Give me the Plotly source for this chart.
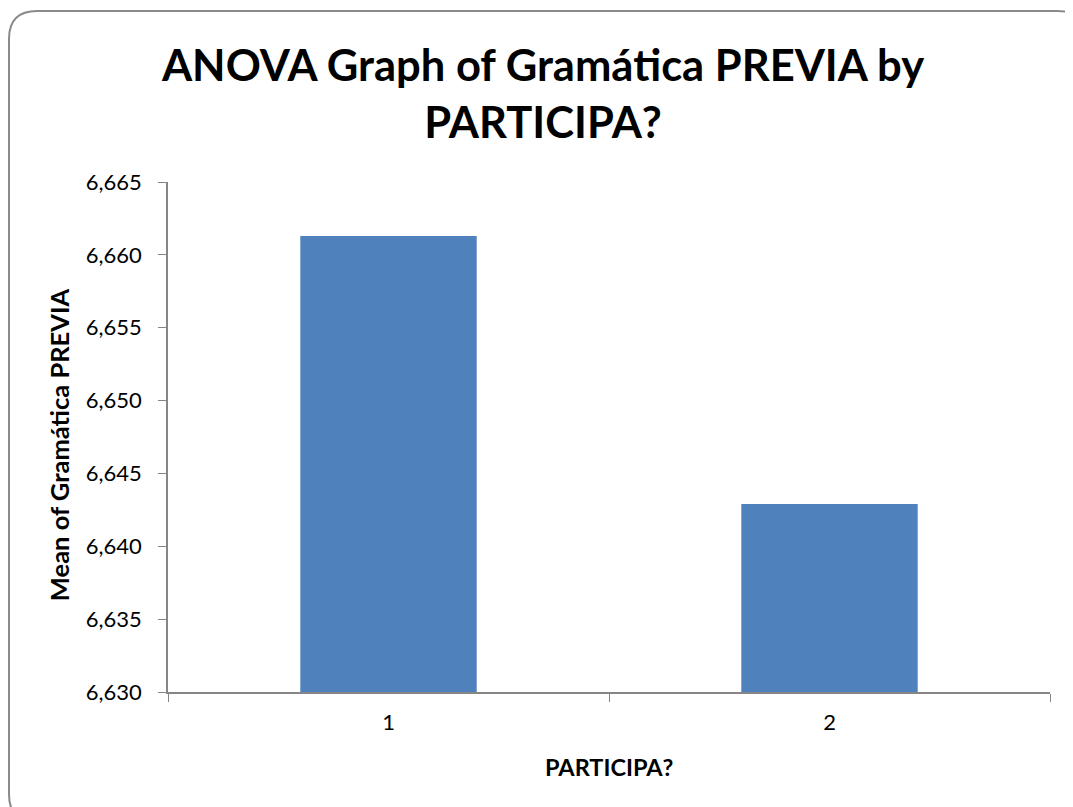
import plotly.graph_objects as go

categories = ["1", "2"]
means = [6.6613, 6.6429]
y_ticks = [6.630, 6.635, 6.640, 6.645, 6.650, 6.655, 6.660, 6.665]

# page body has an 8px default margin, so the figure is offset by 8px
OFF = 8
W, H = 1073 - OFF, 807 - OFF
L, T = 168 - OFF, 182 - OFF
R = W - (1050 - OFF)
B = H - (691.7 - OFF)
pw, ph = W - L - R, H - T - B

def px(x):  # screen pixel -> paper
    return (x - OFF - L) / pw

def py(y):
    return 1 - (y - OFF - T) / ph

fig = go.Figure(go.Bar(x=categories, y=means, width=0.4,
                       marker=dict(color="#4F81BD", line=dict(width=0))))

x0, x1, y0, y1, r = 9, 1085, 11, 822, 28
path = (f"M {px(x0+r)},{py(y0)} L {px(x1-r)},{py(y0)} Q {px(x1)},{py(y0)} {px(x1)},{py(y0+r)} "
        f"L {px(x1)},{py(y1-r)} Q {px(x1)},{py(y1)} {px(x1-r)},{py(y1)} "
        f"L {px(x0+r)},{py(y1)} Q {px(x0)},{py(y1)} {px(x0)},{py(y1-r)} "
        f"L {px(x0)},{py(y0+r)} Q {px(x0)},{py(y0)} {px(x0+r)},{py(y0)} Z")

fig.update_layout(
    width=W, height=H,
    margin=dict(l=L, r=R, t=T, b=B),
    paper_bgcolor="white", plot_bgcolor="white",
    separators=",.",
    showlegend=False,
    font=dict(family="Lato, Calibri, Arial", color="black"),
    title=dict(text="ANOVA Graph of Gramática PREVIA by<br>PARTICIPA?", x=px(543), xanchor="center",
               xref="paper", y=1 - (81 - OFF) / H, yanchor="middle",
               font=dict(size=43.5, family="Lato", weight="bold", color="black")),
    shapes=[dict(type="path", xref="paper", yref="paper", path=path,
                 line=dict(color="#8A8A8A", width=2), layer="below")],
    annotations=[
        dict(text="<b>Mean of Gramática PREVIA</b>", xref="paper", yref="paper",
             x=px(59), y=py(445), xanchor="center", yanchor="middle",
             textangle=-90, showarrow=False,
             font=dict(size=25.5, family="Lato")),
        dict(text="<b>PARTICIPA?</b>", xref="paper", yref="paper",
             x=px(609), y=py(767), xanchor="center", yanchor="middle",
             showarrow=False,
             font=dict(size=23.5, family="Lato")),
    ],
)
fig.update_xaxes(type="category", range=[-0.5, 1.5], tickson="boundaries",
                 ticks="outside", ticklen=8, tickcolor="#868686",
                 ticklabelstandoff=10,
                 showline=True, linecolor="#868686", linewidth=1.5, showgrid=False,
                 tickfont=dict(size=22, family="Lato"))
fig.update_yaxes(range=[6.630, 6.665], tickvals=y_ticks, tickformat=".3f",
                 ticks="outside", ticklen=8, tickcolor="#868686",
                 ticklabelstandoff=12,
                 showline=True, linecolor="#868686", linewidth=1.5, showgrid=False,
                 zeroline=False, tickfont=dict(size=22, family="Lato"))

fig.write_html("out.html")
